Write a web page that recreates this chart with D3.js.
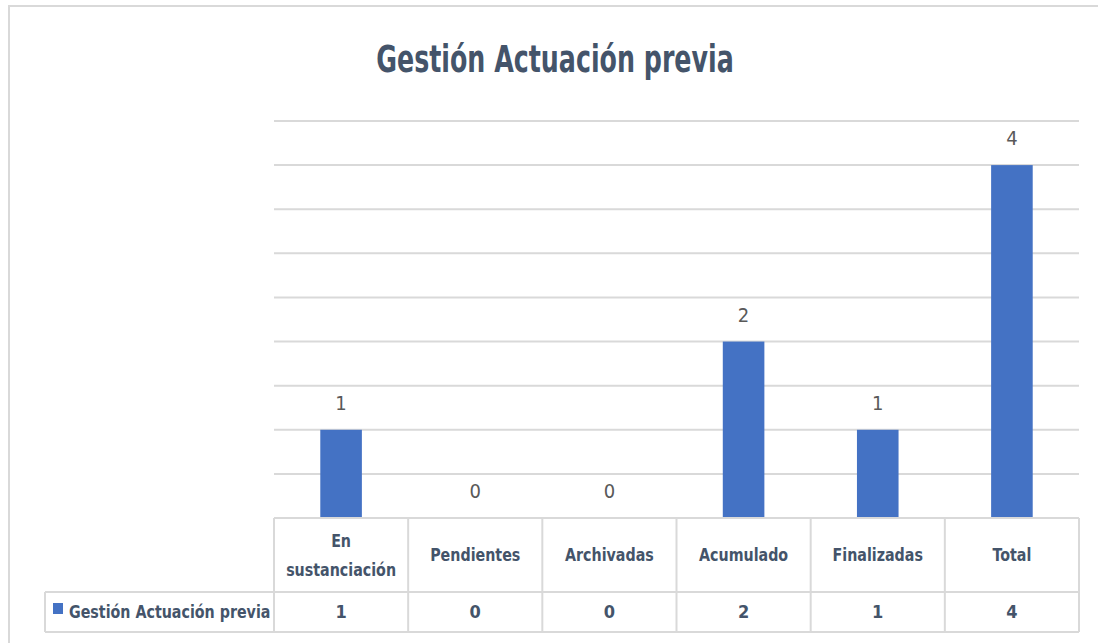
<!DOCTYPE html>
<html>
<head>
<meta charset="utf-8">
<script src="https://cdn.jsdelivr.net/npm/d3@7"></script>
<style>
  body { margin: 0; background: #ffffff; }
  svg { display: block; }
  text { font-family: "DejaVu Sans Condensed", "DejaVu Sans", sans-serif; }
</style>
</head>
<body>
<div id="chart"></div>
<script>
// chart data
var categories = ["En sustanciación", "Pendientes", "Archivadas", "Acumulado", "Finalizadas", "Total"];
var headerLines = [["En", "sustanciación"], ["Pendientes"], ["Archivadas"], ["Acumulado"], ["Finalizadas"], ["Total"]];
var values = [1, 0, 0, 2, 1, 4];
var seriesName = "Gestión Actuación previa";
var chartTitle = "Gestión Actuación previa";
var gridTicks = [0, 0.5, 1, 1.5, 2, 2.5, 3, 3.5, 4, 4.5];

// squeeze a text horizontally so it looks like a narrower face
function condense(sel, k)
{
	sel.each(function() {
		var w = this.getComputedTextLength();
		d3.select(this)
			.attr("textLength", w * k)
			.attr("lengthAdjust", "spacingAndGlyphs");
	});
}

function drawChart()
{
	var width = 1098, height = 643;
	var left = 274, right = 1079, top = 121, base = 518;
	var rowMid = 592, rowBottom = 632, legendLeft = 45;

	var svg = d3.select("#chart").append("svg")
		.attr("width", width)
		.attr("height", height);

	// outer chart border (only top and left visible)
	svg.append("path")
		.attr("d", "M9," + height + " L9,6 L" + width + ",6")
		.attr("fill", "none")
		.attr("stroke", "#d9d9d9")
		.attr("stroke-width", 2);

	var xScale = d3.scaleBand()
		.domain(categories)
		.range([left, right])
		.padding(0);

	var yScale = d3.scaleLinear()
		.domain([0, 4.5])
		.range([base, top]);

	// horizontal grid lines
	svg.append("g").selectAll("line").data(gridTicks).enter().append("line")
		.attr("x1", left)
		.attr("x2", right)
		.attr("y1", function(d){ return yScale(d); })
		.attr("y2", function(d){ return yScale(d); })
		.attr("stroke", "#d9d9d9")
		.attr("stroke-width", 2);

	// bars
	var barW = xScale.bandwidth() * 0.31;
	svg.append("g").selectAll("rect").data(values).enter().append("rect")
		.attr("x", function(d, i){ return xScale(categories[i]) + (xScale.bandwidth() - barW) / 2; })
		.attr("y", function(d){ return yScale(d); })
		.attr("width", barW)
		.attr("height", function(d){ return base - yScale(d); })
		.attr("fill", "#4472c4");

	// value labels
	svg.append("g").selectAll("text").data(values).enter().append("text")
		.attr("x", function(d, i){ return xScale(categories[i]) + xScale.bandwidth() / 2; })
		.attr("y", function(d){ return yScale(d) - 20; })
		.attr("text-anchor", "middle")
		.style("font-size", "20px")
		.style("fill", "#595959")
		.text(function(d){ return d; });

	// data table grid
	var grid = svg.append("g")
		.attr("stroke", "#d9d9d9")
		.attr("stroke-width", 2)
		.attr("fill", "none");
	grid.append("line").attr("x1", left).attr("x2", right).attr("y1", base).attr("y2", base);
	grid.append("line").attr("x1", legendLeft).attr("x2", right).attr("y1", rowMid).attr("y2", rowMid);
	grid.append("line").attr("x1", legendLeft).attr("x2", right).attr("y1", rowBottom).attr("y2", rowBottom);
	grid.append("line").attr("x1", legendLeft).attr("x2", legendLeft).attr("y1", rowMid).attr("y2", rowBottom);
	grid.selectAll("line.col").data(categories.concat(["end"])).enter().append("line")
		.attr("class", "col")
		.attr("x1", function(d, i){ return i < categories.length ? xScale(d) : right; })
		.attr("x2", function(d, i){ return i < categories.length ? xScale(d) : right; })
		.attr("y1", base)
		.attr("y2", rowBottom);

	// header labels
	var heads = svg.append("g").selectAll("text").data(headerLines).enter().append("text")
		.attr("x", function(d, i){ return xScale(categories[i]) + xScale.bandwidth() / 2; })
		.attr("y", function(d){ return (base + rowMid) / 2 + 6 - (d.length - 1) * 14.5; })
		.attr("text-anchor", "middle")
		.style("font-size", "18px")
		.style("font-weight", "bold")
		.style("fill", "#44546a");
	var spans = heads.selectAll("tspan").data(function(d){ return d; }).enter().append("tspan")
		.attr("x", function(){ return d3.select(this.parentNode).attr("x"); })
		.attr("dy", function(d, j){ return j === 0 ? 0 : 29; })
		.text(function(d){ return d; });
	spans.each(function() {
		var w = this.getComputedTextLength();
		d3.select(this).attr("textLength", w * 0.88).attr("lengthAdjust", "spacingAndGlyphs");
	});

	// value row
	svg.append("g").selectAll("text").data(values).enter().append("text")
		.attr("x", function(d, i){ return xScale(categories[i]) + xScale.bandwidth() / 2; })
		.attr("y", (rowMid + rowBottom) / 2 + 6)
		.attr("text-anchor", "middle")
		.style("font-size", "18px")
		.style("font-weight", "bold")
		.style("fill", "#44546a")
		.text(function(d){ return d; });

	// legend key in the table
	svg.append("rect")
		.attr("x", 53)
		.attr("y", 603)
		.attr("width", 10)
		.attr("height", 11)
		.attr("fill", "#4472c4");
	svg.append("text")
		.attr("x", 69)
		.attr("y", (rowMid + rowBottom) / 2 + 6)
		.style("font-size", "18px")
		.style("font-weight", "bold")
		.style("fill", "#44546a")
		.text(seriesName)
		.call(condense, 0.88);

	// title
	svg.append("text")
		.attr("x", 555)
		.attr("y", 72)
		.attr("text-anchor", "middle")
		.style("font-size", "37px")
		.style("font-weight", "bold")
		.style("fill", "#44546a")
		.text(chartTitle)
		.call(condense, 0.76);
}

drawChart();
</script>
</body>
</html>
